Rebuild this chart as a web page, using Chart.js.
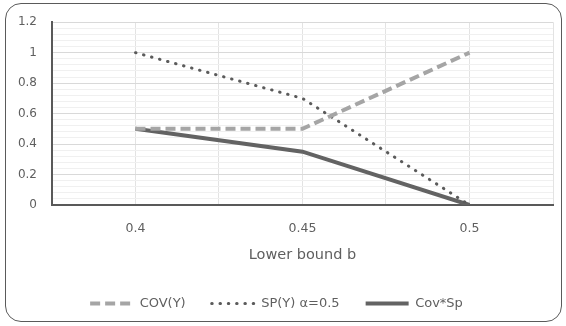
<!DOCTYPE html>
<html>
<head>
<meta charset="utf-8">
<script src="https://cdn.jsdelivr.net/npm/chart.js@4/dist/chart.umd.min.js"></script>
<style>
  html, body { margin: 0; padding: 0; background: #fff; }
  #wrap { position: relative; width: 566px; height: 326px; }
  #frame {
    position: absolute; left: 5px; top: 3px; width: 555px; height: 317px;
    border: 1.5px solid #5a5a5a; border-radius: 16px; pointer-events: none;
  }
  canvas { position: absolute; left: 0; top: 0; }
</style>
</head>
<body>
<div id="wrap">
  <canvas id="chart" width="566" height="326"></canvas>
  <div id="frame"></div>
</div>
<script>
const categories = [0.4, 0.45, 0.5]
const covY = [0.5, 0.5, 1.0]
const spY = [1.0, 0.7, 0.0]
const covSp = [0.5, 0.35, 0.0]
const xTickLabels = ["0.4", "0.45", "0.5"]
const seriesNames = ["COV(Y)", "SP(Y) \u03b1=0.5", "Cov*Sp"]

const toPoints = vals => vals.map((v, i) => ({ x: categories[i], y: v }))
const textColor = "#5f5f5f"
const family = "'DejaVu Sans', sans-serif"

const isMajor = v => Math.abs(v / 0.2 - Math.round(v / 0.2)) < 1e-6

new Chart(document.getElementById("chart"), {
  type: "line",
  data: {
    datasets: [{
      label: seriesNames[0],
      data: toPoints(covY),
      borderColor: "#a5a5a5",
      borderWidth: 4,
      borderDash: [10, 5],
      pointRadius: 0,
      tension: 0
    }, {
      label: seriesNames[1],
      data: toPoints(spY),
      borderColor: "#5b5b5b",
      borderWidth: 3,
      borderDash: [0.5, 7.8],
      borderCapStyle: "round",
      pointRadius: 0,
      tension: 0
    }, {
      label: seriesNames[2],
      data: toPoints(covSp),
      borderColor: "#636363",
      borderWidth: 4,
      pointRadius: 0,
      tension: 0
    }]
  },
  options: {
    responsive: false,
    animation: false,
    layout: { padding: { left: 0, right: 13, top: 22, bottom: 6 } },
    plugins: {
      tooltip: { enabled: false },
      legend: {
        position: "bottom",
        labels: {
          usePointStyle: true,
          pointStyle: "line",
          pointStyleWidth: 43,
          boxHeight: 13,
          padding: 26,
          color: textColor,
          font: { family, size: 13 },
          generateLabels: chart => chart.data.datasets.map((ds, i) => ({
            text: ds.label,
            datasetIndex: i,
            strokeStyle: ds.borderColor,
            fillStyle: ds.borderColor,
            fontColor: textColor,
            lineWidth: ds.borderWidth,
            lineDash: ds.borderDash || [],
            lineCap: ds.borderCapStyle || "butt",
            pointStyle: "line",
            hidden: false
          }))
        }
      }
    },
    scales: {
      x: {
        type: "linear",
        min: 0.375,
        max: 0.525,
        afterBuildTicks: scale => {
          const t = []
          for (let i = 0; i <= 6; i++) t.push({ value: 0.375 + i * 0.025 })
          scale.ticks = t
        },
        afterFit: scale => {
          scale.height = 66
          scale.paddingLeft = 0
          scale.paddingRight = 0
        },
        grid: { color: "#e3e3e3", drawTicks: false },
        border: { color: "#595959", width: 2 },
        ticks: {
          autoSkip: false,
          maxRotation: 0,
          padding: 16,
          color: textColor,
          font: { family, size: 12.5 },
          callback: v => {
            const idx = categories.findIndex(c => Math.abs(c - v) < 1e-6)
            return idx >= 0 ? xTickLabels[idx] : ""
          }
        },
        title: {
          display: true,
          text: "Lower bound b",
          color: textColor,
          font: { family, size: 14.5 },
          padding: { top: 0, bottom: 7 }
        }
      },
      y: {
        min: 0,
        max: 1.2,
        afterFit: scale => { scale.width = 52 },
        grid: {
          drawTicks: false,
          color: ctx => isMajor(ctx.tick.value) ? "#d9d9d9" : "#f0f0f0"
        },
        border: { color: "#595959", width: 2 },
        ticks: {
          stepSize: 0.04,
          maxTicksLimit: 100,
          autoSkip: false,
          padding: 15,
          color: textColor,
          font: { family, size: 12 },
          callback: v => isMajor(v) ? String(Math.round(v * 10) / 10) : ""
        }
      }
    }
  }
})
</script>
</body>
</html>
